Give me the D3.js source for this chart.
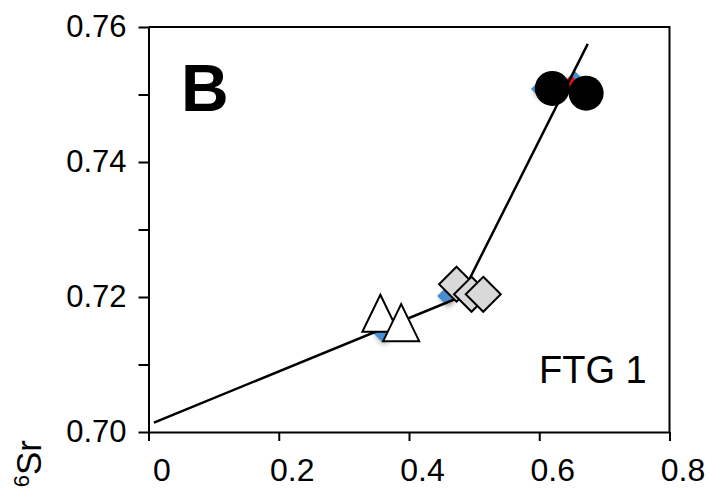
<!DOCTYPE html>
<html>
<head>
<meta charset="utf-8">
<script src="https://cdnjs.cloudflare.com/ajax/libs/d3/7.8.5/d3.min.js"></script>
<style>
  html, body { margin: 0; padding: 0; background: #fff; }
  svg { display: block; font-family: Arial, "Liberation Sans", sans-serif; }
</style>
</head>
<body>
<div id="chart"></div>
<script>
// --- data ---
const triangleX = [0.356, 0.388];
const triangleY = [0.7176, 0.7162];

const diamondX = [0.473, 0.496, 0.514];
const diamondY = [0.7219, 0.7204, 0.7204];

const circleX = [0.620, 0.672];
const circleY = [0.7509, 0.7502];

// mixing line (three vertices)
const lineX = [0.0084, 0.479, 0.6745];
const lineY = [0.7014, 0.7200, 0.7575];

// small hidden markers peeking out from under the big ones
const blueX = [0.457, 0.3585, 0.601, 0.655];
const blueY = [0.72015, 0.71467, 0.7508, 0.7521];
const redX = [0.6488];
const redY = [0.75156];

const xTicks = [0, 0.2, 0.4, 0.6, 0.8];
const xTickLabels = ["0", "0.2", "0.4", "0.6", "0.8"];
const yTicks = [0.70, 0.71, 0.72, 0.73, 0.74, 0.75, 0.76];
const yTickLabels = ["0.70", "", "0.72", "", "0.74", "", "0.76"];

const panelLabel = "B";
const sampleLabel = "FTG 1";

// --- layout ---
const width = 712, height = 488;
const plotLeft = 148.5, plotRight = 669.5, plotTop = 27, plotBottom = 432;

const svg = d3.select("#chart").append("svg")
    .attr("width", width)
    .attr("height", height);

const defs = svg.append("defs");
const shadow = defs.append("filter").attr("id", "shadow")
    .attr("x", "-50%").attr("y", "-50%").attr("width", "200%").attr("height", "200%");
shadow.append("feDropShadow")
    .attr("dx", 2).attr("dy", 3).attr("stdDeviation", 2.5)
    .attr("flood-color", "#000").attr("flood-opacity", 0.35);

const x = d3.scaleLinear().domain([0, 0.8]).range([plotLeft, plotRight]);
const y = d3.scaleLinear().domain([0.70, 0.76]).range([plotBottom, plotTop]);

// box (top + right)
svg.append("path")
    .attr("d", `M${plotLeft},${plotTop}H${plotRight}V${plotBottom}`)
    .attr("fill", "none")
    .attr("stroke", "#000")
    .attr("stroke-width", 2);

// axes
const yAxis = svg.append("g")
    .attr("transform", `translate(${plotLeft},0)`)
    .call(d3.axisLeft(y)
        .tickValues(yTicks)
        .tickSize(10)
        .tickSizeOuter(0)
        .tickPadding(12)
        .tickFormat((d, i) => yTickLabels[i]));

const xAxis = svg.append("g")
    .attr("transform", `translate(0,${plotBottom})`)
    .call(d3.axisBottom(x)
        .tickValues(xTicks)
        .tickSize(9)
        .tickSizeOuter(0)
        .tickPadding(17)
        .tickFormat((d, i) => xTickLabels[i]));

[xAxis, yAxis].forEach(a => {
    a.selectAll("path, line").attr("stroke", "#000").attr("stroke-width", 2);
    a.selectAll("text")
        .attr("fill", "#000")
        .style("font-family", "Arial, 'Liberation Sans', sans-serif");
});
yAxis.selectAll("text").style("font-size", "31px");
// x labels sit a little right of their ticks in the original
xAxis.selectAll("text").style("font-size", "32px").attr("x", 13);

// y axis title, mostly cut off at the bottom edge
const yTitle = svg.append("text")
    .attr("transform", "translate(41,440) rotate(-90)")
    .attr("text-anchor", "end")
    .style("font-size", "35px")
    .attr("fill", "#000");
yTitle.append("tspan").attr("baseline-shift", "super").style("font-size", "22px").text("87");
yTitle.append("tspan").text("Sr/");
yTitle.append("tspan").attr("baseline-shift", "super").style("font-size", "22px").text("86");
yTitle.append("tspan").text("Sr");

// diamond path helper
const diamond = (cx, cy, h) => `M${cx},${cy - h}L${cx + h},${cy}L${cx},${cy + h}L${cx - h},${cy}Z`;

// hidden markers
svg.append("g").selectAll("path.blue")
    .data(blueX.map((v, i) => [v, blueY[i]]))
    .join("path")
    .attr("class", "blue")
    .attr("d", d => diamond(x(d[0]), y(d[1]), 9))
    .attr("fill", "#4a8fd0")
    .attr("filter", "url(#shadow)");

svg.append("g").selectAll("path.red")
    .data(redX.map((v, i) => [v, redY[i]]))
    .join("path")
    .attr("class", "red")
    .attr("d", d => diamond(x(d[0]), y(d[1]), 9))
    .attr("fill", "#e8141c");

// mixing line
svg.append("path")
    .datum(lineX.map((v, i) => [v, lineY[i]]))
    .attr("d", d3.line().x(d => x(d[0])).y(d => y(d[1])))
    .attr("fill", "none")
    .attr("stroke", "#000")
    .attr("stroke-width", 2.5);

// triangles
svg.append("g").selectAll("path")
    .data(triangleX.map((v, i) => [v, triangleY[i]]))
    .join("path")
    .attr("d", d => {
        const cx = x(d[0]), cy = y(d[1]), w = 18, h = 18.5;
        return `M${cx},${cy - h}L${cx + w},${cy + h}L${cx - w},${cy + h}Z`;
    })
    .attr("fill", "#fff")
    .attr("stroke", "#000")
    .attr("stroke-width", 2)
    .attr("stroke-linejoin", "miter");

// diamonds
svg.append("g").selectAll("path")
    .data(diamondX.map((v, i) => [v, diamondY[i]]))
    .join("path")
    .attr("d", d => diamond(x(d[0]), y(d[1]), 17.5))
    .attr("fill", "#d9d9d9")
    .attr("stroke", "#000")
    .attr("stroke-width", 2);

// circles
svg.append("g").selectAll("circle")
    .data(circleX.map((v, i) => [v, circleY[i]]))
    .join("circle")
    .attr("cx", d => x(d[0]))
    .attr("cy", d => y(d[1]))
    .attr("r", 17.5)
    .attr("fill", "#000");

// labels
svg.append("text")
    .attr("x", 181)
    .attr("y", 111)
    .style("font-size", "66px")
    .style("font-weight", "bold")
    .attr("fill", "#000")
    .text(panelLabel);

svg.append("text")
    .attr("x", 539)
    .attr("y", 383)
    .style("font-size", "38px")
    .attr("fill", "#000")
    .text(sampleLabel);
</script>
</body>
</html>
